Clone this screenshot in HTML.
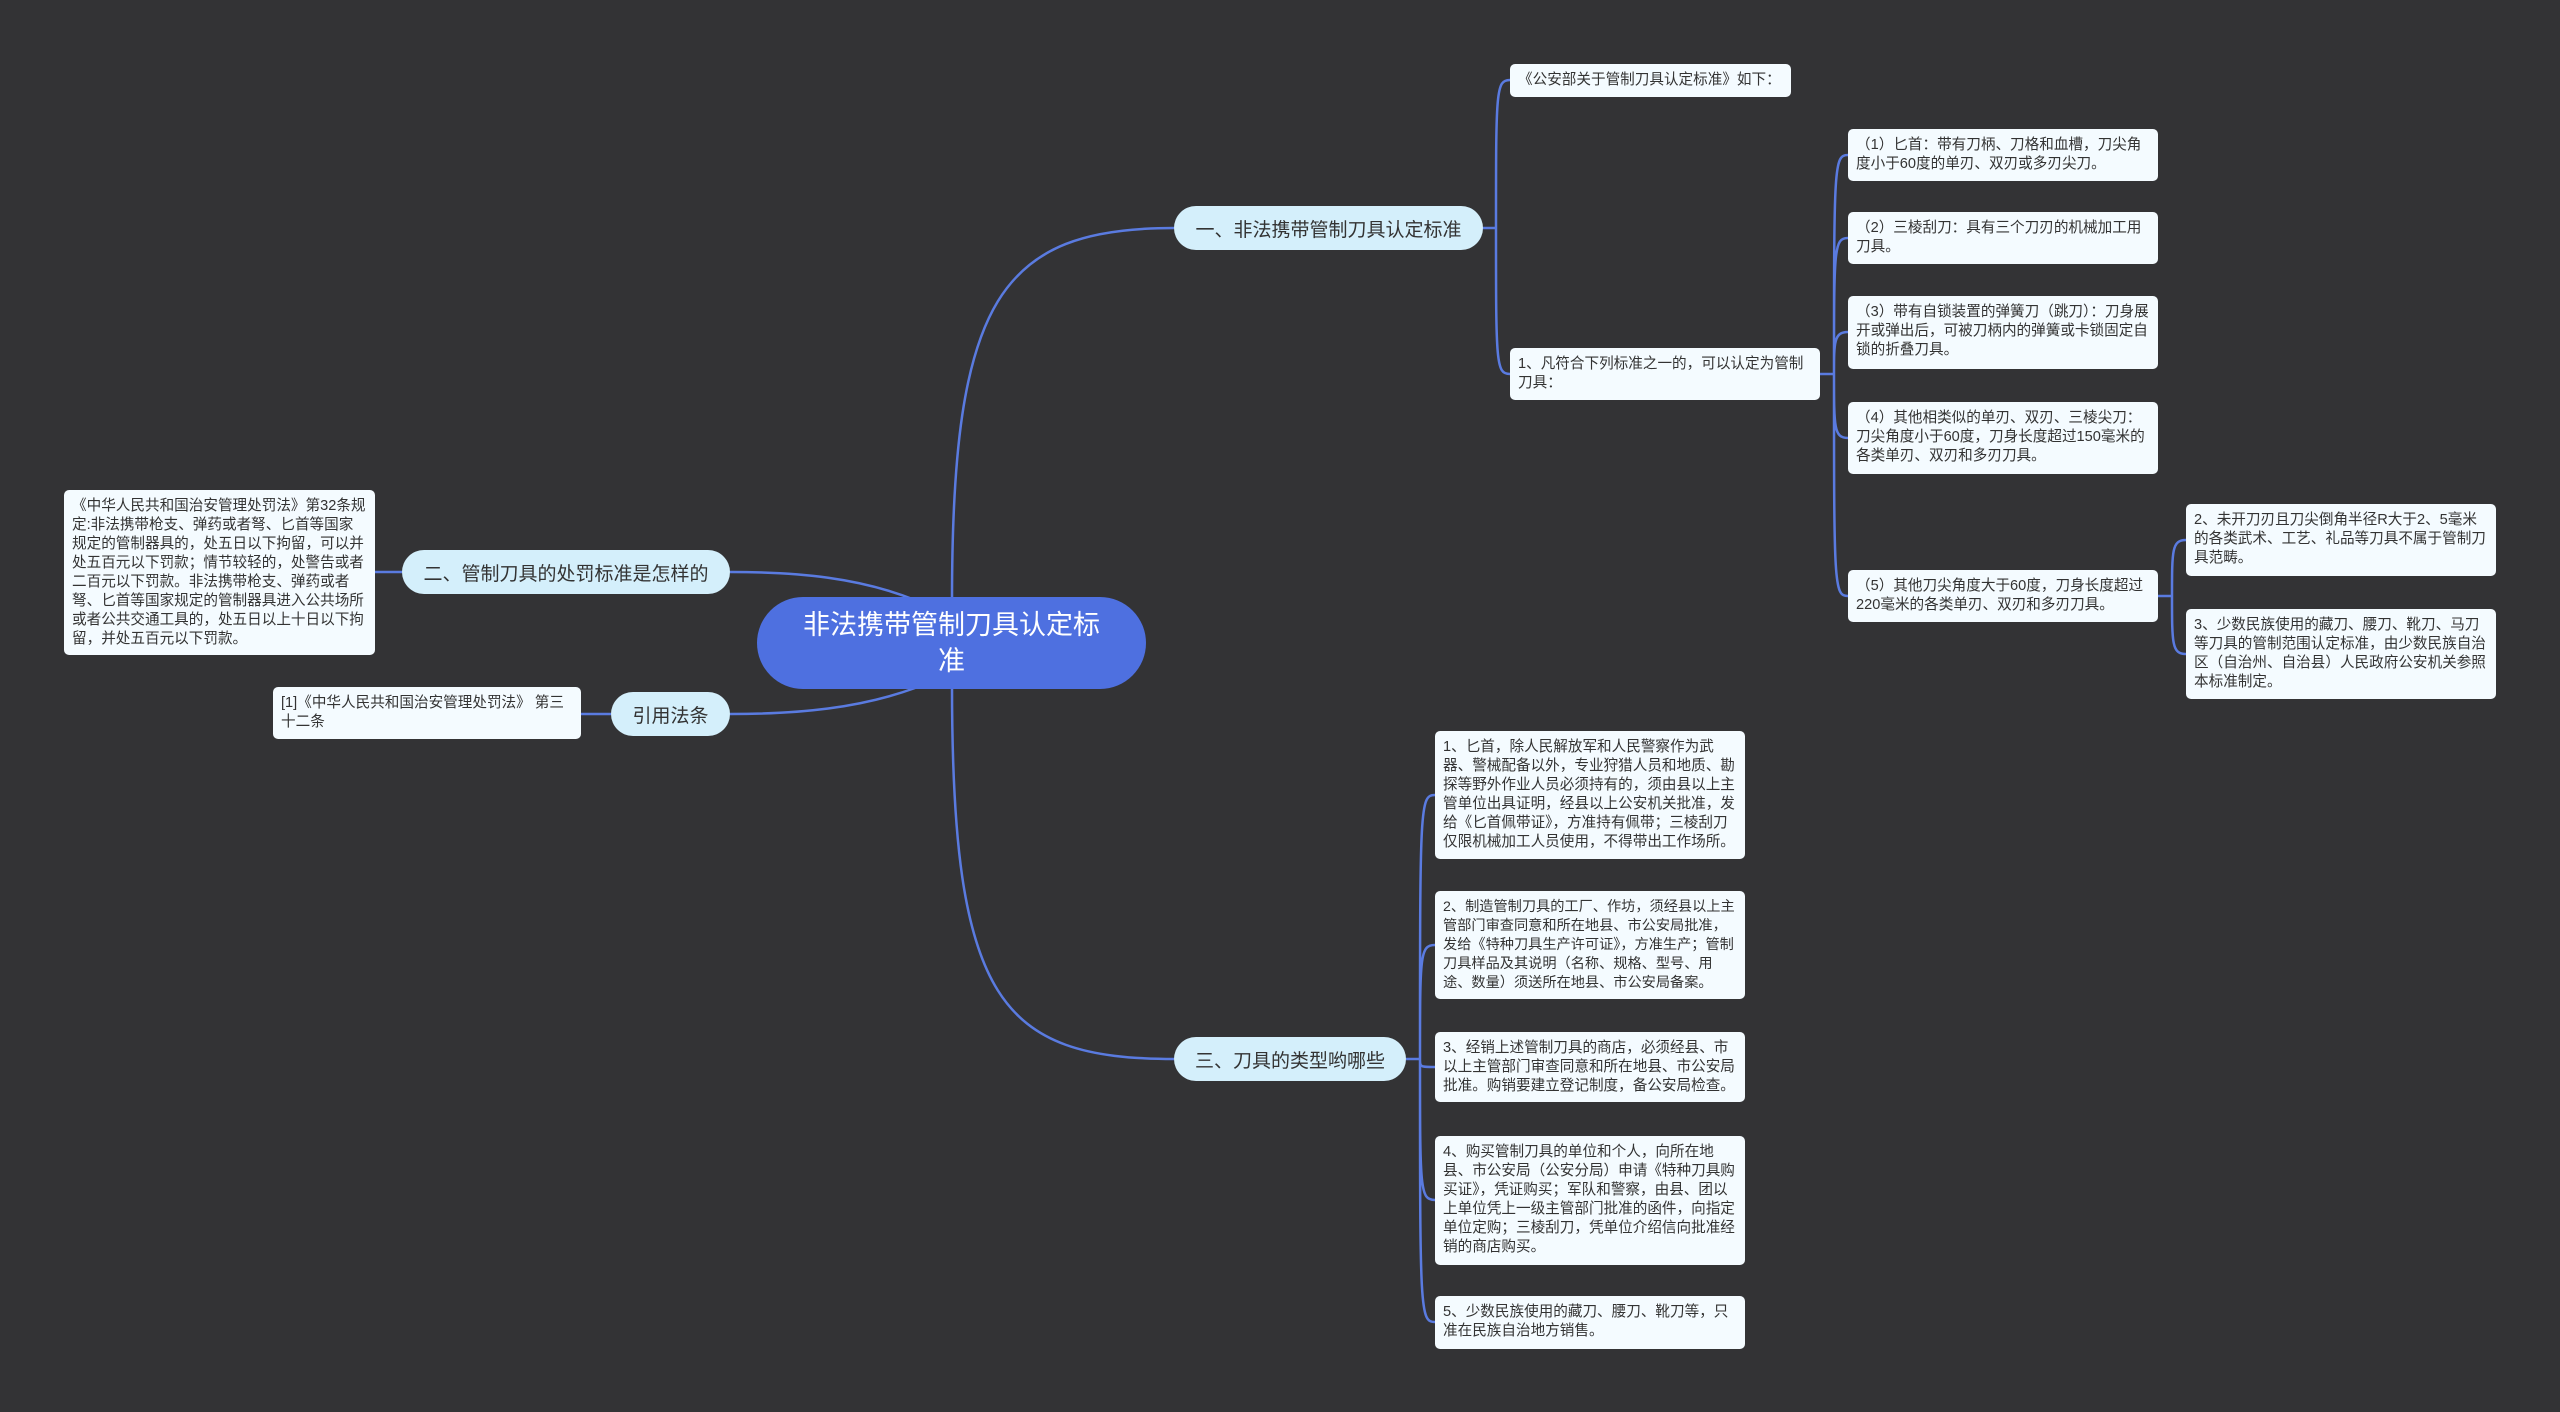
<!DOCTYPE html>
<html><head><meta charset="utf-8"><style>
body{margin:0;width:2560px;height:1412px;background:#333335;position:relative;overflow:hidden;font-family:"Liberation Sans","Noto Sans CJK SC",sans-serif;}
.n{position:absolute;box-sizing:border-box;}
.root{background:#4e70e0;color:#fff;border-radius:46px;font-size:27px;line-height:36px;text-align:center;display:flex;align-items:center;justify-content:center;padding:0 38px;}
.br{background:#d4effb;color:#333;border-radius:22px;font-size:19px;display:flex;align-items:center;justify-content:center;white-space:nowrap;}
.lf{background:#f4fbff;color:#333;border-radius:5px;font-size:14.6px;line-height:19px;padding:7px 8px;}
svg{position:absolute;left:0;top:0;}
</style></head><body>
<svg width="2560" height="1412" fill="none" stroke="#5a7be0" stroke-width="2.5">
<path d="M952 600 C952 300 1000 228 1174 228"/>
<path d="M952 686 C952 1000 1000 1059 1174 1059"/>
<path d="M915 600 C860 578 800 572 730 572"/>
<path d="M915 688 C860 708 800 714 730 714"/>
<path d="M952 597 V689"/>
<path d="M1483 228 H1496 M1496 228 C1496 90 1496 80 1510 80 M1496 228 C1496 364 1496 374 1510 374"/>
<path d="M1820 374 H1834 M1834 374 C1834 165 1834 155 1848 155 M1834 374 C1834 248 1834 238 1848 238 M1834 374 C1834 342 1834 332 1848 332 M1834 374 C1834 428 1834 438 1848 438 M1834 374 C1834 586 1834 596 1848 596"/>
<path d="M2158 596 H2172 M2172 596 C2172 550 2172 540 2186 540 M2172 596 C2172 644 2172 654 2186 654"/>
<path d="M1406 1059 H1420 M1420 1059 C1420 805 1420 795 1435 795 M1420 1059 C1420 955 1420 945 1435 945 M1420 1059 C1420 1067 1420 1067 1435 1067 M1420 1059 C1420 1190 1420 1200 1435 1200 M1420 1059 C1420 1312 1420 1322 1435 1322"/>
<path d="M402 572 H375"/>
<path d="M611 714 H581"/>
</svg>
<div class="n root" style="left:757px;top:597px;width:389px;height:92px;">非法携带管制刀具认定标准</div>
<div class="n br" style="left:1174px;top:206px;width:309px;height:44px;">一、非法携带管制刀具认定标准</div>
<div class="n br" style="left:402px;top:550px;width:328px;height:44px;">二、管制刀具的处罚标准是怎样的</div>
<div class="n br" style="left:611px;top:692px;width:119px;height:44px;">引用法条</div>
<div class="n br" style="left:1174px;top:1037px;width:232px;height:44px;">三、刀具的类型哟哪些</div>

<div class="n lf" style="left:1510px;top:64px;width:281px;height:33px;">《公安部关于管制刀具认定标准》如下：</div>
<div class="n lf" style="left:1510px;top:348px;width:310px;height:52px;">1、凡符合下列标准之一的，可以认定为管制刀具：</div>
<div class="n lf" style="left:1848px;top:129px;width:310px;height:52px;">（1）匕首：带有刀柄、刀格和血槽，刀尖角度小于60度的单刃、双刃或多刃尖刀。</div>
<div class="n lf" style="left:1848px;top:212px;width:310px;height:52px;">（2）三棱刮刀：具有三个刀刃的机械加工用刀具。</div>
<div class="n lf" style="left:1848px;top:296px;width:310px;height:73px;">（3）带有自锁装置的弹簧刀（跳刀）：刀身展开或弹出后，可被刀柄内的弹簧或卡锁固定自锁的折叠刀具。</div>
<div class="n lf" style="left:1848px;top:402px;width:310px;height:72px;">（4）其他相类似的单刃、双刃、三棱尖刀：刀尖角度小于60度，刀身长度超过150毫米的各类单刃、双刃和多刃刀具。</div>
<div class="n lf" style="left:1848px;top:570px;width:310px;height:52px;">（5）其他刀尖角度大于60度，刀身长度超过220毫米的各类单刃、双刃和多刃刀具。</div>
<div class="n lf" style="left:2186px;top:504px;width:310px;height:72px;">2、未开刀刃且刀尖倒角半径R大于2、5毫米的各类武术、工艺、礼品等刀具不属于管制刀具范畴。</div>
<div class="n lf" style="left:2186px;top:609px;width:310px;height:90px;">3、少数民族使用的藏刀、腰刀、靴刀、马刀等刀具的管制范围认定标准，由少数民族自治区（自治州、自治县）人民政府公安机关参照本标准制定。</div>

<div class="n lf" style="left:64px;top:490px;width:311px;height:165px;">《中华人民共和国治安管理处罚法》第32条规定:非法携带枪支、弹药或者弩、匕首等国家规定的管制器具的，处五日以下拘留，可以并处五百元以下罚款；情节较轻的，处警告或者二百元以下罚款。非法携带枪支、弹药或者弩、匕首等国家规定的管制器具进入公共场所或者公共交通工具的，处五日以上十日以下拘留，并处五百元以下罚款。</div>
<div class="n lf" style="left:273px;top:687px;width:308px;height:52px;">[1]《中华人民共和国治安管理处罚法》 第三十二条</div>

<div class="n lf" style="left:1435px;top:731px;width:310px;height:128px;">1、匕首，除人民解放军和人民警察作为武器、警械配备以外，专业狩猎人员和地质、勘探等野外作业人员必须持有的，须由县以上主管单位出具证明，经县以上公安机关批准，发给《匕首佩带证》，方准持有佩带；三棱刮刀仅限机械加工人员使用，不得带出工作场所。</div>
<div class="n lf" style="left:1435px;top:891px;width:310px;height:108px;font-size:14.2px;">2、制造管制刀具的工厂、作坊，须经县以上主管部门审查同意和所在地县、市公安局批准，发给《特种刀具生产许可证》，方准生产；管制刀具样品及其说明（名称、规格、型号、用途、数量）须送所在地县、市公安局备案。</div>
<div class="n lf" style="left:1435px;top:1032px;width:310px;height:70px;">3、经销上述管制刀具的商店，必须经县、市以上主管部门审查同意和所在地县、市公安局批准。购销要建立登记制度，备公安局检查。</div>
<div class="n lf" style="left:1435px;top:1136px;width:310px;height:129px;">4、购买管制刀具的单位和个人，向所在地县、市公安局（公安分局）申请《特种刀具购买证》，凭证购买；军队和警察，由县、团以上单位凭上一级主管部门批准的函件，向指定单位定购；三棱刮刀，凭单位介绍信向批准经销的商店购买。</div>
<div class="n lf" style="left:1435px;top:1296px;width:310px;height:53px;">5、少数民族使用的藏刀、腰刀、靴刀等，只准在民族自治地方销售。</div>
</body></html>
